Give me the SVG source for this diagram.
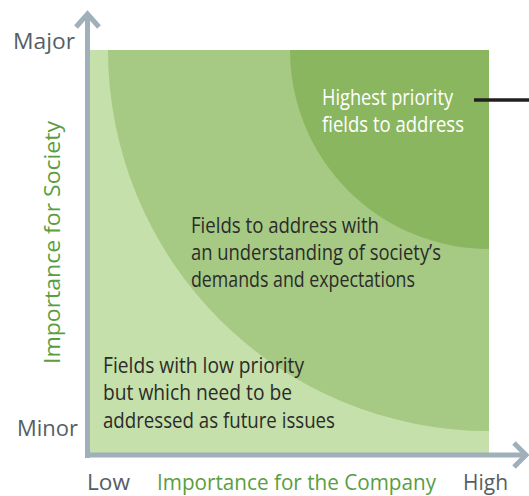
<svg xmlns="http://www.w3.org/2000/svg" width="529" height="496" viewBox="0 0 529 496">
  <style>
    .lbl { font-family: "Open Sans", "Noto Sans", "Liberation Sans", sans-serif; font-size: 21px; }
    .axis-end { fill: #555e66; font-size: 21px; }
    .axis-title { fill: #5a9e3f; font-size: 22px; }
    .zone { fill: #2b2b2b; }
    .zone-top { fill: #ffffff; }
    .axis { fill: none; stroke: #a0b0ba; stroke-width: 5; }
  </style>

  <!-- priority zones: quarter circles centred on the top-right corner -->
  <g id="zone-low">
    <rect x="90" y="50" width="399" height="403" fill="#c5e0aa"/>
  </g>
  <g id="zone-mid">
    <path d="M489 50 L108 50 A381 381 0 0 0 489 431 Z" fill="#a6c983"/>
  </g>
  <g id="zone-high">
    <path d="M489 50 L290 50 A199 199 0 0 0 489 249 Z" fill="#8bb660"/>
  </g>

  <!-- axes and leader line -->
  <g id="connectors">
    <path class="axis" d="M87.5 458 L87.5 14"/>
    <path class="axis" d="M76 27 L87.5 14 L99 27" stroke-linejoin="miter"/>
    <path class="axis" d="M85 455 L525 455"/>
    <path class="axis" d="M514 443 L526 455 L514 467" stroke-linejoin="miter"/>
    <line x1="474" y1="100" x2="529" y2="100" stroke="#231f20" stroke-width="3.5"/>
  </g>

  <!-- zone labels -->
  <g id="label-high" class="lbl zone-top">
    <text x="322" y="105" textLength="131" lengthAdjust="spacingAndGlyphs">Highest priority</text>
    <text x="322" y="132" textLength="142" lengthAdjust="spacingAndGlyphs">fields to address</text>
  </g>
  <g id="label-mid" class="lbl zone">
    <text x="191" y="233" textLength="188" lengthAdjust="spacingAndGlyphs">Fields to address with</text>
    <text x="191" y="260" textLength="250" lengthAdjust="spacingAndGlyphs">an understanding of society’s</text>
    <text x="191" y="287" textLength="224" lengthAdjust="spacingAndGlyphs">demands and expectations</text>
  </g>
  <g id="label-low" class="lbl zone">
    <text x="103" y="373" textLength="201" lengthAdjust="spacingAndGlyphs">Fields with low priority</text>
    <text x="103" y="400" textLength="189" lengthAdjust="spacingAndGlyphs">but which need to be</text>
    <text x="103" y="428" textLength="232" lengthAdjust="spacingAndGlyphs">addressed as future issues</text>
  </g>

  <!-- axis labels -->
  <g id="axis-labels" class="lbl">
    <text class="axis-end" x="13" y="49" textLength="62" lengthAdjust="spacingAndGlyphs">Major</text>
    <text class="axis-end" x="17" y="436" textLength="61" lengthAdjust="spacingAndGlyphs">Minor</text>
    <text class="axis-end" x="87" y="490" font-size="22" textLength="43" lengthAdjust="spacingAndGlyphs">Low</text>
    <text class="axis-title" x="157" y="490" textLength="279" lengthAdjust="spacingAndGlyphs">Importance for the Company</text>
    <text class="axis-end" x="463" y="490" font-size="22" textLength="45" lengthAdjust="spacingAndGlyphs">High</text>
    <text class="axis-title" transform="translate(59.5 364) rotate(-90)" x="0" y="0" textLength="243" lengthAdjust="spacingAndGlyphs">Importance for Society</text>
  </g>
</svg>
